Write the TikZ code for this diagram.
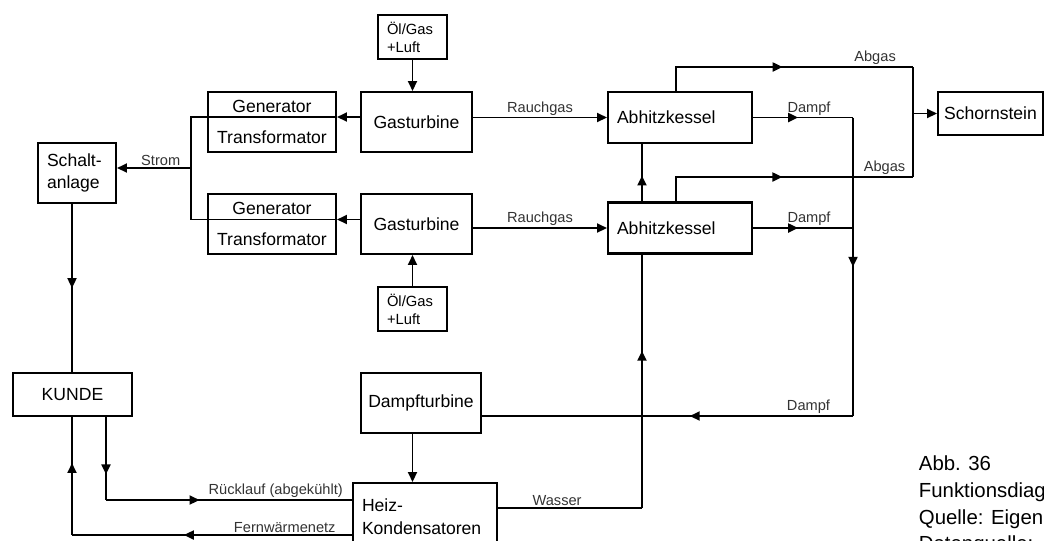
\documentclass[tikz,border=0pt]{standalone}
\usepackage{fontspec}
\setmainfont{Liberation Sans}
\usetikzlibrary{arrows.meta}
\usetikzlibrary{positioning}
\usetikzlibrary{decorations.markings}

\tikzset{
  box/.style={draw, line width=1.5pt, inner sep=0pt, font=\fontsize{12.5}{15}\selectfont},
  lbox/.style={box, align=left, inner xsep=0.225cm, text width=#1},
  turb/.style={box, minimum width=2.775cm, minimum height=1.5cm},
  genbox/.style={box, align=center, minimum width=3.2cm, minimum height=1.5cm},
  oelbox/.style={lbox=1.275cm, minimum height=1.1cm, font=\fontsize{10.5}{12.8}\selectfont},
  akbox/.style={lbox=3.15cm, minimum height=1.275cm},
  lbl/.style={font=\fontsize{10.4}{12}\selectfont, text=black!80, inner sep=1pt},
  mid arrow/.style={postaction={decorate},
    decoration={markings, mark=at position #1 with {\arrow{>}}}},
}

\begin{document}
\begin{tikzpicture}[>={Triangle[length=7pt,width=6.4pt]}, line width=1.3pt, node distance=2cm, on grid]
  \useasboundingbox (0,0) rectangle (26.1,-13.5);
  \clip (0,0) rectangle (26.1,-13.5);

  % gas turbines with fuel supply
  \node[turb] (gt1) at (10.4125,-3.05) {Gasturbine};
  \node[turb, below=2.55cm of gt1] (gt2) {Gasturbine};
  \node[oelbox, above left=2.125cm and 0.1cm of gt1] (oel1) {Öl/Gas\\+Luft};
  \node[oelbox, below left=2.125cm and 0.1cm of gt2] (oel2) {Öl/Gas\\+Luft};

  % generators and switchgear
  \node[genbox, left=3.6125cm of gt1] (gen1) {Generator\\[7pt]Transformator};
  \node[genbox, left=3.6125cm of gt2] (gen2) {Generator\\[7pt]Transformator};
  \node[lbox=1.5cm, minimum height=1.5cm, font=\fontsize{12.5}{15.5}\selectfont,
        below left=1.275cm and 4.875cm of gen1] (sch) {Schalt-\\anlage};
  \node[box, minimum width=2.975cm, minimum height=1.075cm,
        below left=5.5375cm and 0.1125cm of sch] (kunde) {KUNDE};

  % boilers, chimney, steam side
  \node[akbox, above right=0.1125cm and 6.5875cm of gt1] (ak1) {Abhitzkessel};
  \node[akbox, below right=0.1cm and 6.5875cm of gt2] (ak2) {Abhitzkessel};
  \node[box, minimum width=2.625cm, minimum height=1.075cm,
        above right=0.1cm and 7.7625cm of ak1] (schorn) {Schornstein};
  \node[box, minimum width=3cm, minimum height=1.5cm,
        below right=4.475cm and 0.1125cm of gt2] (dt) {Dampfturbine};
  \node[lbox=3.15cm, minimum height=1.675cm, font=\fontsize{12.5}{16.4}\selectfont,
        below right=2.8375cm and 0.1cm of dt] (heiz) {Heiz-\\Kondensatoren};

  \node[anchor=north west, align=left, inner sep=0pt,
        font=\fontsize{14.5}{19}\selectfont] (cap) at (22.95,-11.375)
        {Abb. 36\\Funktionsdiag\\Quelle: Eigen\\Datenquelle:};

  \coordinate (bus1) at (4.775,-2.925);
  \coordinate (bus2) at (4.775,-5.4875);
  \coordinate (strom) at (4.775,-4.2);
  \coordinate (abg1) at (22.825,-1.675);
  \coordinate (abg2) at (22.825,-4.425);
  \coordinate (dsam) at (21.325,-10.4);
  \coordinate (wk) at (16.05,-12.7);
  \coordinate (rl) at (2.65,-12.5);
  \coordinate (fw) at (1.8,-13.375);

  % fuel and electricity
  \draw[->] (oel1.south -| oel1) -- (oel1 |- gt1.north);
  \draw[->] (oel2.north -| oel2) -- (oel2 |- gt2.south);
  \draw[->] (gt1.west |- bus1) -- (gen1.east |- bus1);
  \draw[->] (gt2.west |- bus2) -- (gen2.east |- bus2);
  \draw (gen1.east |- bus1) -- (bus1) -- (bus2) -- (gen2.east |- bus2);
  \draw[->] (strom) -- node[lbl, above, pos=0.41] {Strom} (strom -| sch.east);
  \draw[mid arrow=0.5] (fw |- sch.south) -- (fw |- kunde.north);

  % flue gas
  \draw[->] (gt1.east |- ak1.west) -- node[lbl, above] {Rauchgas} (ak1.west);
  \draw[->] (gt2.east |- ak2.west) -- node[lbl, above] {Rauchgas} (ak2.west);
  \draw[mid arrow=0.5] ([xshift=-0.1cm]ak1.north) |- node[lbl, above, pos=0.92] {Abgas} (abg1);
  \draw[mid arrow=0.5] ([xshift=-0.1cm]ak2.north) |- node[lbl, above, pos=0.94] {Abgas} (abg2);
  \draw (abg1) -- (abg2);
  \draw[->] (abg1 |- schorn.west) -- (schorn.west);

  % steam and water
  \draw[mid arrow=0.45] (ak1.east) -- node[lbl, above, pos=0.56] {Dampf} (ak1.east -| dsam);
  \draw[mid arrow=0.45] (ak2.east) -- node[lbl, above, pos=0.56] {Dampf} (ak2.east -| dsam);
  \draw[mid arrow=0.5] (ak1.east -| dsam) -- (dsam);
  \draw[mid arrow=0.44] (dsam) -- node[lbl, above, pos=0.12] {Dampf} (dsam -| dt.east);
  \draw[->] (dt.south -| oel2) -- (heiz.north -| oel2);
  \draw (wk -| heiz.east) -- node[lbl, above, pos=0.41] {Wasser} (wk);
  \draw[mid arrow=0.62] (wk) -- (wk |- ak2.south);
  \draw[mid arrow=0.45] (wk |- ak2.north) -- (wk |- ak1.south);

  % district heating
  \draw[mid arrow=0.69] (rl |- kunde.south) -- (rl);
  \draw[mid arrow=0.38] (rl) -- node[lbl, above, pos=0.69] {Rücklauf (abgekühlt)} (rl -| heiz.west);
  \draw[mid arrow=0.6] (fw -| heiz.west) -- node[lbl, above, pos=0.24] {Fernwärmenetz} (fw);
  \draw[mid arrow=0.61] (fw) -- (fw |- kunde.south);
\end{tikzpicture}
\end{document}
